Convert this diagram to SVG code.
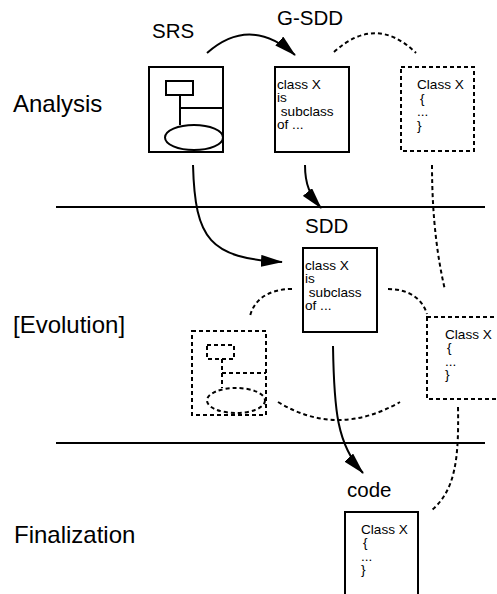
<svg xmlns="http://www.w3.org/2000/svg" width="497" height="594" viewBox="0 0 497 594">
  <style>
    .lbl { font-family: "Liberation Sans", Arial, sans-serif; fill: #000; }
    .phase { font-size: 24px; }
    .doc { font-size: 20.5px; }
    .txt { font-size: 13.6px; }
    .solid { fill: none; stroke: #000; stroke-width: 2; }
    .dash { fill: none; stroke: #000; stroke-width: 2; stroke-dasharray: 4 3; }
    .flow { fill: none; stroke: #000; stroke-width: 2; marker-end: url(#head); }
  </style>
  <defs>
    <marker id="head" markerUnits="userSpaceOnUse" markerWidth="22" markerHeight="12" refX="21" refY="6" orient="auto">
      <path d="M0,0 L22,6 L0,12 z" fill="#000"/>
    </marker>
  </defs>
  <rect width="497" height="594" fill="#fff"/>

  <!-- phase labels and separators -->
  <g id="phases">
    <text class="lbl phase" x="13" y="112">Analysis</text>
    <text class="lbl phase" x="13" y="333">[Evolution]</text>
    <text class="lbl phase" x="14" y="543">Finalization</text>
    <line x1="56" y1="207" x2="485" y2="207" stroke="#000" stroke-width="2"/>
    <line x1="56" y1="443" x2="485" y2="443" stroke="#000" stroke-width="2"/>
  </g>

  <!-- requirements spec -->
  <g id="srs">
    <text class="lbl doc" x="152" y="38">SRS</text>
    <rect class="solid" x="149" y="67" width="74" height="85"/>
    <rect class="solid" x="166" y="81" width="27" height="14"/>
    <line class="solid" x1="180" y1="95" x2="180" y2="125"/>
    <line class="solid" x1="180" y1="108" x2="223" y2="108"/>
    <ellipse class="solid" cx="194" cy="137.5" rx="29" ry="12.5"/>
  </g>

  <!-- generic design -->
  <g id="gsdd">
    <text class="lbl doc" x="277" y="25">G-SDD</text>
    <rect class="solid" x="275" y="67" width="74" height="85"/>
    <text class="lbl txt" x="277" y="88.5">class X</text>
    <text class="lbl txt" x="277" y="102">is</text>
    <text class="lbl txt" x="277" y="115.5" xml:space="preserve"> subclass</text>
    <text class="lbl txt" x="277" y="129">of ...</text>
  </g>

  <!-- generic class template -->
  <g id="class-generic">
    <rect class="dash" x="401" y="67" width="73" height="84"/>
    <text class="lbl txt" x="417" y="89">Class X</text>
    <text class="lbl txt" x="420" y="102.5">{</text>
    <text class="lbl txt" x="417" y="116">...</text>
    <text class="lbl txt" x="417" y="129.5">}</text>
  </g>

  <!-- specific design -->
  <g id="sdd">
    <text class="lbl doc" x="305" y="233">SDD</text>
    <rect class="solid" x="303" y="248" width="74" height="84"/>
    <text class="lbl txt" x="305" y="269.5">class X</text>
    <text class="lbl txt" x="305" y="283">is</text>
    <text class="lbl txt" x="305" y="296.5" xml:space="preserve"> subclass</text>
    <text class="lbl txt" x="305" y="310">of ...</text>
  </g>

  <!-- evolving requirements copy -->
  <g id="srs-evolved">
    <rect class="dash" x="192" y="331" width="74" height="84"/>
    <rect class="dash" x="207" y="345" width="27" height="14"/>
    <line class="dash" x1="222" y1="359" x2="222" y2="388"/>
    <line class="dash" x1="222" y1="373" x2="266" y2="373"/>
    <ellipse class="dash" cx="236" cy="400.5" rx="29" ry="12.5"/>
  </g>

  <!-- evolving class -->
  <g id="class-evolved">
    <rect class="dash" x="427" y="317" width="74" height="82"/>
    <text class="lbl txt" x="445" y="338.5">Class X</text>
    <text class="lbl txt" x="447" y="352">{</text>
    <text class="lbl txt" x="445" y="365.5">...</text>
    <text class="lbl txt" x="445" y="379">}</text>
  </g>

  <!-- final code -->
  <g id="code">
    <text class="lbl doc" x="347" y="497">code</text>
    <path class="solid" d="M345,597 V512 H418 V597"/>
    <text class="lbl txt" x="361" y="533.5">Class X</text>
    <text class="lbl txt" x="363" y="547">{</text>
    <text class="lbl txt" x="361" y="560.5">...</text>
    <text class="lbl txt" x="361" y="574">}</text>
  </g>

  <!-- connectors -->
  <g id="connectors">
    <path class="flow" d="M207,53 Q250,15 295,55"/>
    <path class="flow" d="M305,165 C305,185 310,195 321,208"/>
    <path class="flow" d="M193,165 C195,240 210,258 282,262"/>
    <path class="flow" d="M333,346 C334,410 337,445 363,473"/>
    <path class="dash" d="M334,52 Q376,14 416,53"/>
    <path class="dash" d="M432,165 C432,220 438,260 445,290"/>
    <path class="dash" d="M292,289 C268,289 254,300 250,316"/>
    <path class="dash" d="M388,289 C408,289 422,298 427,314"/>
    <path class="dash" d="M278,402 Q337,438 400,402"/>
    <path class="dash" d="M458,407 C459,460 455,490 432,510"/>
  </g>
</svg>
